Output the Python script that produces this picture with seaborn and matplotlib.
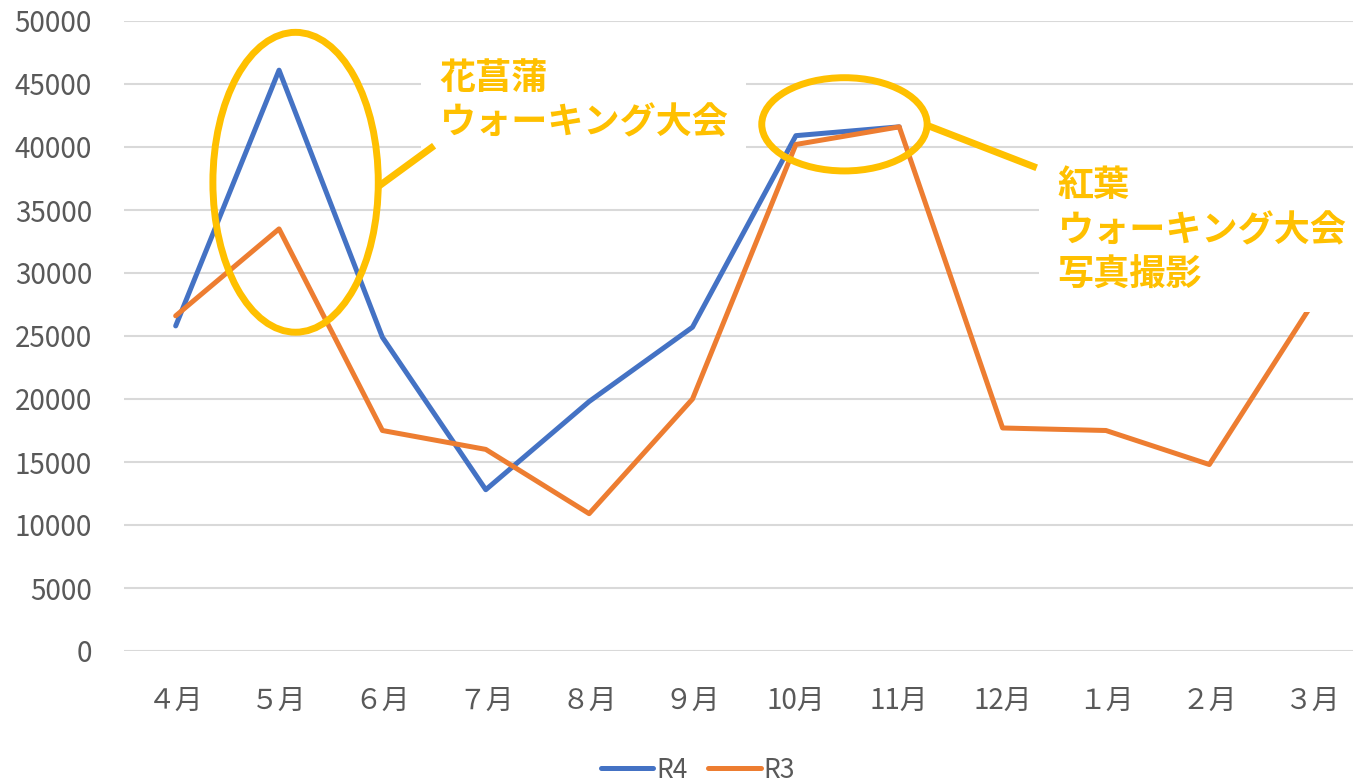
import matplotlib
matplotlib.use("Agg")
import matplotlib.pyplot as plt
from matplotlib.patches import Ellipse
import seaborn as sns
import pandas as pd

# ------------------------------------------------------------
# Data
# ------------------------------------------------------------
months = ["４月", "５月", "６月", "７月", "８月", "９月",
          "10月", "11月", "12月", "１月", "２月", "３月"]
r4_values = [25800, 46100, 24900, 12800, 19800, 25700, 40900, 41600]
r3_values = [26600, 33500, 17500, 16000, 10900, 20000, 40200, 41600,
             17700, 17500, 14800, 27600]
y_ticks = [0, 5000, 10000, 15000, 20000, 25000,
           30000, 35000, 40000, 45000, 50000]

note_iris = "花菖蒲\nウォーキング大会"
note_autumn = "紅葉\nウォーキング大会\n写真撮影"

BLUE = "#4472C4"
ORANGE = "#ED7D31"
GOLD = "#FFC000"
GREY_TXT = "#595959"
GRID = "#D9D9D9"

df = pd.concat([
    pd.DataFrame({"月": months[:len(r4_values)], "人数": r4_values, "年度": "R4"}),
    pd.DataFrame({"月": months, "人数": r3_values, "年度": "R3"}),
], ignore_index=True)

# ------------------------------------------------------------
# Style
# ------------------------------------------------------------
sns.set_style("white")
plt.rcParams["font.family"] = ["Noto Sans CJK JP", "DejaVu Sans"]

W, H = 1353, 783
fig = plt.figure(figsize=(W / 100, H / 100), dpi=100)
ax = fig.add_axes([124 / W, (H - 651) / H, (W - 124) / W, (651 - 21) / H])

sns.lineplot(
    data=df, x="月", y="人数", hue="年度",
    palette={"R4": BLUE, "R3": ORANGE},
    linewidth=3.6, sort=False, ax=ax,
)

ax.set_xlim(-0.5, 11.39)
ax.set_ylim(0, 50000)
ax.set_yticks(y_ticks)
ax.set_yticklabels([str(v) for v in y_ticks])
ax.set_xlabel("")
ax.set_ylabel("")
ax.grid(axis="y", color=GRID, linewidth=1.5)
ax.set_axisbelow(True)
for s in ax.spines.values():
    s.set_visible(False)
ax.tick_params(axis="both", length=0, labelsize=20, colors=GREY_TXT)
ax.tick_params(axis="y", pad=23)
ax.tick_params(axis="x", pad=25)

# legend at bottom
sns.move_legend(ax, "center", bbox_to_anchor=(0.467, -0.189), ncol=2,
                frameon=False, title=None, fontsize=19,
                handlelength=2.0, columnspacing=0.8, handletextpad=0.1)
for t in ax.get_legend().get_texts():
    t.set_color(GREY_TXT)

# ------------------------------------------------------------
# Annotations
# ------------------------------------------------------------
ax.add_patch(Ellipse((1.16, 37200), 1.6, 23800, fill=False,
                     edgecolor=GOLD, linewidth=5, zorder=6))
ax.add_patch(Ellipse((6.47, 41800), 1.6, 7400, fill=False,
                     edgecolor=GOLD, linewidth=5, zorder=6))

ax.plot([1.95, 2.50], [36800, 40100], color=GOLD, linewidth=5,
        solid_capstyle="butt", zorder=7)
ax.plot([7.26, 8.33], [41750, 38350], color=GOLD, linewidth=5,
        solid_capstyle="butt", zorder=7)

box = dict(boxstyle="square,pad=0.5", facecolor="white", edgecolor="none")
ax.text(2.55, 46900, note_iris, color=GOLD, fontsize=26, fontweight="bold",
        va="top", ha="left", linespacing=1.25, bbox=box, zorder=5)
ax.text(8.53, 38400, note_autumn, color=GOLD, fontsize=26, fontweight="bold",
        va="top", ha="left", linespacing=1.27, bbox=box, zorder=5)

fig.savefig("out.png", dpi=100)
